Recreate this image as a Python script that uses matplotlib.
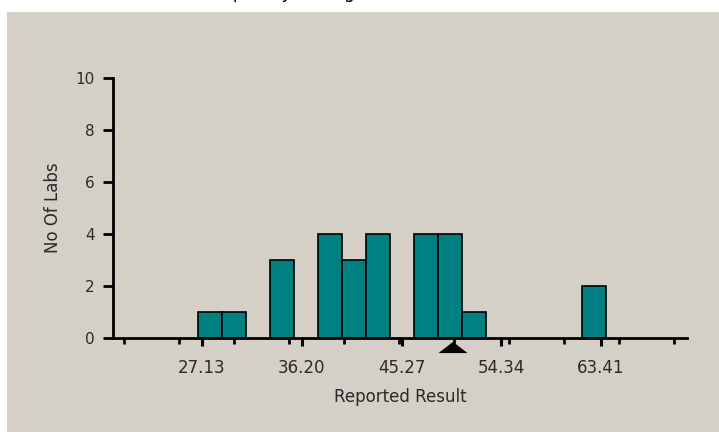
import matplotlib
matplotlib.use('Agg')
import matplotlib.pyplot as plt
from matplotlib.patches import Rectangle, Polygon

plt.rcParams['font.family'] = ['DejaVu Sans']

# histogram bins (left edge of each non-empty bin) and counts
bin_left = [26.77, 28.95, 33.31, 37.67, 39.85, 42.03, 46.39, 48.57, 50.75, 61.65]
counts = [1, 1, 3, 4, 3, 4, 4, 4, 1, 2]
bin_width = 2.18

label_ticks = [27.13, 36.20, 45.27, 54.34, 63.41]
minor_ticks = [20, 25, 30, 35, 40, 45, 50, 55, 60, 65, 70]
y_ticks = [0, 2, 4, 6, 8, 10]
assigned = 49.95

grey = '#d4d0c8'
teal = '#008080'

fig = plt.figure(figsize=(7.19, 4.32), dpi=100)
fig.patch.set_facecolor('white')
fig.patches.append(Rectangle((7/719, 0), 1, 420/432, transform=fig.transFigure,
                             facecolor=grey, edgecolor='none', zorder=-5))
# title is cut off at the top edge, only descenders show
fig.text(0.41, 1.0 + 1.5/432, 'Frequency Histogram', fontsize=13, va='baseline', ha='center')

ax = fig.add_axes([113/719, 94/432, 574/719, 260/432])
ax.patch.set_visible(False)

ax.bar(bin_left, counts, width=bin_width, align='edge', color=teal,
       edgecolor='black', linewidth=1.2, zorder=2)

ax.set_xlim(19.04, 71.22)
ax.set_ylim(0, 10)

for s in ['top', 'right']:
    ax.spines[s].set_visible(False)
for s in ['left', 'bottom']:
    ax.spines[s].set_linewidth(2)
    ax.spines[s].set_zorder(3)

ax.set_yticks(y_ticks)
ax.set_xticks(label_ticks)
ax.set_xticklabels(['%.2f' % v for v in label_ticks])
ax.set_xticks(minor_ticks, minor=True)
ax.tick_params(axis='y', direction='out', length=7, width=2, pad=6, labelsize=11,
               color='black', labelcolor='#2a2a2a')
ax.tick_params(axis='x', which='major', direction='out', length=6, width=2.2, pad=9,
               labelsize=12, labelcolor='#2a2a2a')
ax.tick_params(axis='x', which='minor', direction='out', length=4, width=2)

ax.set_ylabel('No Of Labs', fontsize=12, labelpad=10, color='#2a2a2a')
ax.set_xlabel('Reported Result', fontsize=12, labelpad=8, color='#2a2a2a')

tri = Polygon([[assigned, -0.015], [assigned - 1.32, -0.058], [assigned + 1.32, -0.058]],
              closed=True, transform=ax.get_xaxis_transform(), facecolor='black',
              edgecolor='none', clip_on=False, zorder=4)
ax.add_patch(tri)

fig.savefig('out.png', dpi=100, facecolor=fig.get_facecolor())
